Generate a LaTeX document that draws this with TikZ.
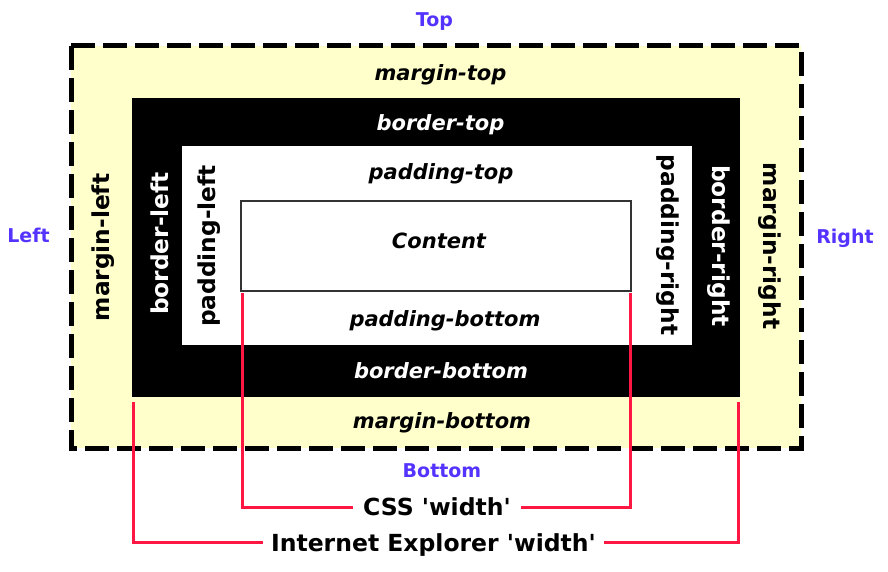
\documentclass[tikz,border=0pt]{standalone}
\usepackage{fontspec}
\setmainfont{DejaVu Sans}[Ligatures=TeXOff]
\definecolor{marginfill}{HTML}{FFFFCC}
\definecolor{labelblue}{HTML}{5533FF}
\definecolor{widthred}{HTML}{FF1744}
\definecolor{contentedge}{HTML}{333333}
\begin{document}
\begin{tikzpicture}[x=1pt,y=-1pt,
  hlabel/.style={font=\fontsize{21}{21}\selectfont\bfseries\itshape, inner sep=0pt, anchor=base},
  vlabel/.style={font=\fontsize{23.3}{23}\selectfont\bfseries, inner sep=0pt, anchor=base},
  sidelabel/.style={font=\fontsize{19}{19}\selectfont\bfseries, text=labelblue, inner sep=0pt, anchor=base},
  widthlabel/.style={font=\fontsize{23.5}{23.5}\selectfont\bfseries, text height=17pt, text depth=0pt, inner ysep=0pt},
  widthline/.style={draw=widthred, line width=3pt},
]
\useasboundingbox (0,0) rectangle (888,572);
% boxes
\path[fill=marginfill, draw=black, line width=5pt, dash pattern=on 24pt off 8pt] (71,46) rectangle (801,448);
\fill[black] (132,98) rectangle (740,397);
\fill[white] (182,146) rectangle (692,345);
\draw[contentedge, line width=1.5pt] (241,201) rectangle (631,291);
% side labels
\node[sidelabel] (top) at (434.5,27) {Top};
\node[sidelabel] (left) at (28.5,242) {Left};
\node[sidelabel] (right) at (845,243) {Right};
\node[sidelabel] (bottom) at (442,477) {Bottom};
% horizontal labels
\node[hlabel] (mtop) at (440.5,81) {margin-top};
\node[hlabel, text=white] (btop) at (440.5,131) {border-top};
\node[hlabel] (ptop) at (441,180) {padding-top};
\node[hlabel] (content) at (439,248) {Content};
\node[hlabel] (pbottom) at (445,326) {padding-bottom};
\node[hlabel, text=white] (bbottom) at (441,378) {border-bottom};
\node[hlabel] (mbottom) at (442,428) {margin-bottom};
% vertical labels
\node[vlabel, rotate=90] (mleft) at (109,247.5) {margin-left};
\node[vlabel, rotate=90, text=white] (bleft) at (168,243.5) {border-left};
\node[vlabel, rotate=90] (pleft) at (215,246) {padding-left};
\node[vlabel, rotate=-90] (pright) at (661,245) {padding-right};
\node[vlabel, rotate=-90, text=white] (bright) at (712,246) {border-right};
\node[vlabel, rotate=-90] (mright) at (763,246) {margin-right};
% width markers
\coordinate (cssL) at (242,293);
\coordinate (cssR) at (630,293);
\coordinate (ieL) at (133,402);
\coordinate (ieR) at (738,402);
\node[widthlabel, inner xsep=10pt] (css) at (437,507) {CSS 'width'};
\node[widthlabel, inner xsep=7.5pt] (ie) at (433.5,542.5) {Internet Explorer 'width'};
\draw[widthline] (cssL) |- (css.west);
\draw[widthline] (cssR) |- (css.east);
\draw[widthline] (ieL) |- (ie.west);
\draw[widthline] (ieR) |- (ie.east);
\end{tikzpicture}
\end{document}
